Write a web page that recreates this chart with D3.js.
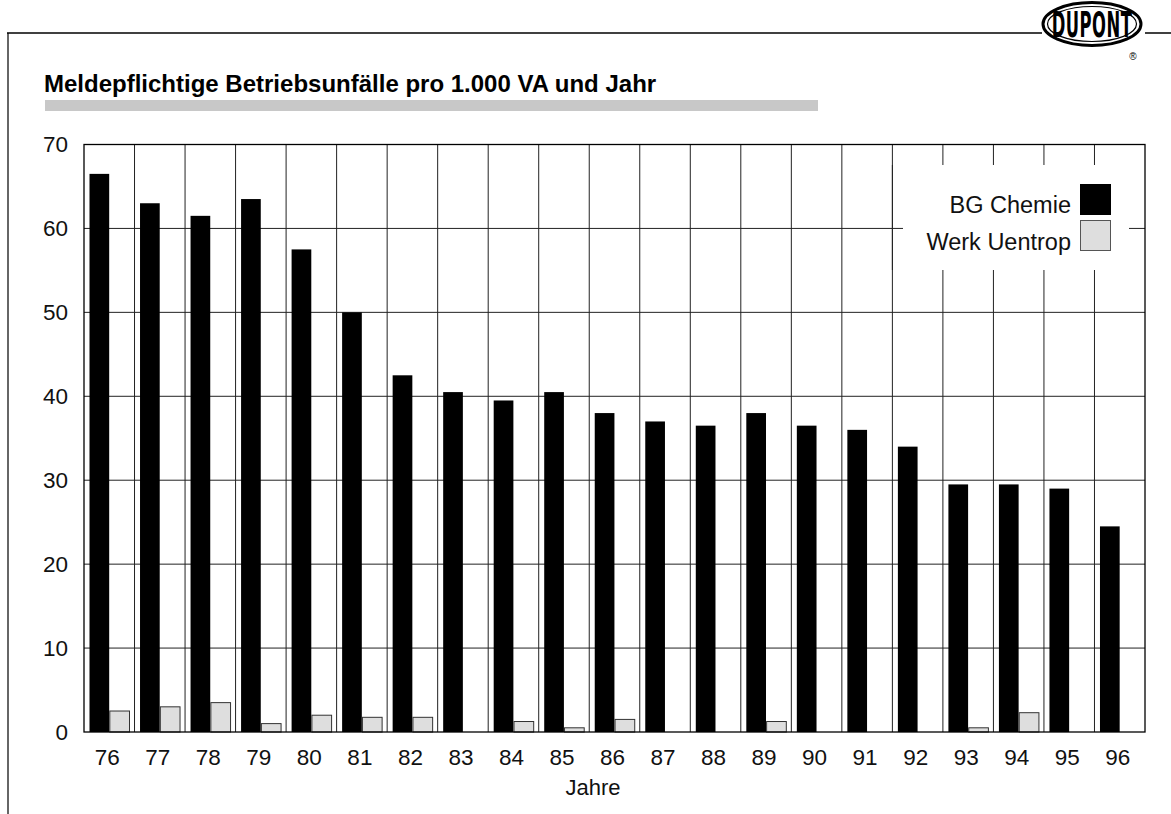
<!DOCTYPE html>
<html>
<head>
<meta charset="utf-8">
<script src="https://cdn.jsdelivr.net/npm/d3@7"></script>
<style>
  body { margin: 0; background: #fff; }
  svg { display: block; font-family: "Liberation Sans", Arial, sans-serif; }
</style>
</head>
<body>
<div id="chart"></div>
<script>
const years = ["76","77","78","79","80","81","82","83","84","85","86","87","88","89","90","91","92","93","94","95","96"];
const bgChemie = [66.5,63,61.5,63.5,57.5,50,42.5,40.5,39.5,40.5,38,37,36.5,38,36.5,36,34,29.5,29.5,29,24.5];
const werkUentrop = [2.5,3,3.5,1,2,1.75,1.75,0,1.25,0.5,1.5,0,0,1.25,0,0,0,0.5,2.3,0,0];
const seriesNames = ["BG Chemie", "Werk Uentrop"];
const yTicks = [0,10,20,30,40,50,60,70];

const W = 1171, H = 814;
const margin = { top: 144.5, left: 84, right: 26, bottom: 82 };
const x0 = margin.left, x1 = W - margin.right;
const y0 = H - margin.bottom, y1 = margin.top;

const svg = d3.select("#chart").append("svg").attr("width", W).attr("height", H);

// frame + logo
svg.append("line").attr("x1", 8).attr("x2", 8).attr("y1", 33).attr("y2", H)
  .attr("stroke", "#666").attr("stroke-width", 2);
svg.append("line").attr("x1", 7).attr("x2", 1042).attr("y1", 33).attr("y2", 33)
  .attr("stroke", "#000").attr("stroke-width", 1.5);
svg.append("line").attr("x1", 1145).attr("x2", W).attr("y1", 33).attr("y2", 33)
  .attr("stroke", "#000").attr("stroke-width", 1.5);
const logo = svg.append("g").attr("transform", "translate(1092,24)");
logo.append("ellipse").attr("rx", 49).attr("ry", 21.5).attr("fill", "#fff").attr("stroke", "#000").attr("stroke-width", 3);
logo.append("ellipse").attr("rx", 44.5).attr("ry", 17.5).attr("fill", "none").attr("stroke", "#000").attr("stroke-width", 1.2);
logo.append("text").attr("text-anchor", "middle").attr("y", 12.5)
  .attr("font-size", 35).attr("transform", "scale(0.52,1)")
  .attr("font-family", "'DejaVu Sans Condensed', 'Liberation Sans Narrow', sans-serif")
  .attr("font-weight", "bold").attr("letter-spacing", 1)
  .attr("fill", "#000").text("DUPONT");
logo.append("text").attr("x", 41).attr("y", 36).attr("font-size", 10).attr("text-anchor", "middle").text("®");

// title
svg.append("text").attr("x", 44).attr("y", 92).attr("font-size", 24).attr("font-weight", "bold")
  .text("Meldepflichtige Betriebsunfälle pro 1.000 VA und Jahr");
svg.append("rect").attr("x", 45).attr("y", 100).attr("width", 773).attr("height", 11).attr("fill", "#c8c8c8");

const x = d3.scaleBand().domain(years).range([x0, x1]).paddingInner(0).paddingOuter(0);
const xs = d3.scaleBand().domain(seriesNames).range([5.5, 45.5]).paddingInner(0.03);
const y = d3.scaleLinear().domain([0, 70]).range([y0, y1]);

// grid
const grid = svg.append("g").attr("stroke", "#222").attr("stroke-width", 1);
grid.selectAll(".hg").data(yTicks.slice(1, -1)).join("line")
  .attr("x1", x0).attr("x2", x1).attr("y1", d => y(d)).attr("y2", d => y(d));
grid.selectAll(".vg").data(years.slice(1)).join("line")
  .attr("x1", d => x(d)).attr("x2", d => x(d)).attr("y1", y1).attr("y2", y0);

// bars
const data = years.map((yr, i) => ({ yr, vals: [bgChemie[i], werkUentrop[i]] }));
const groups = svg.append("g").selectAll("g").data(data).join("g")
  .attr("transform", d => `translate(${x(d.yr)},0)`);
groups.selectAll("rect").data(d => d.vals.map((v, j) => ({ v, s: seriesNames[j] }))).join("rect")
  .attr("x", d => xs(d.s))
  .attr("width", xs.bandwidth())
  .attr("y", d => y(d.v))
  .attr("height", d => y(0) - y(d.v))
  .attr("fill", d => d.s === seriesNames[0] ? "#000" : "#dedede")
  .attr("stroke", d => d.s === seriesNames[0] ? "none" : "#333")
  .attr("stroke-width", 1);

// legend
const lg = svg.append("g");
lg.append("rect").attr("x", 903).attr("y", 165).attr("width", 226).attr("height", 105).attr("fill", "#fff");
lg.append("line").attr("x1", x(years[16])).attr("x2", x(years[16])).attr("y1", 165).attr("y2", 270).attr("stroke", "#222");
seriesNames.forEach((s, i) => {
  lg.append("rect").attr("x", 1080.5).attr("y", 184.5 + i * 36).attr("width", 30).attr("height", 30)
    .attr("fill", i === 0 ? "#000" : "#dedede").attr("stroke", i === 0 ? "#000" : "#555");
  lg.append("text").attr("x", 1071).attr("y", 213 + i * 37).attr("text-anchor", "end")
    .attr("font-size", 23.5).attr("fill", "#111").text(s);
});

// axes frame
svg.append("rect").attr("x", x0).attr("y", y1).attr("width", x1 - x0).attr("height", y0 - y1)
  .attr("fill", "none").attr("stroke", "#000").attr("stroke-width", 1.3);

const yAxis = svg.append("g").attr("transform", `translate(${x0},0)`)
  .call(d3.axisLeft(y).tickValues(yTicks).tickSize(0).tickPadding(16));
yAxis.select(".domain").remove();
yAxis.selectAll("text").attr("font-size", 22.5).attr("fill", "#111").attr("font-family", "'Liberation Sans', Arial, sans-serif");

const xAxis = svg.append("g").attr("transform", `translate(0,${y0})`)
  .call(d3.axisBottom(x).tickSize(0).tickPadding(17));
xAxis.select(".domain").remove();
xAxis.selectAll("text").attr("font-size", 22.5).attr("fill", "#111").attr("dx", -2).attr("font-family", "'Liberation Sans', Arial, sans-serif");

svg.append("text").attr("x", 593).attr("y", 795).attr("text-anchor", "middle")
  .attr("font-size", 22).attr("fill", "#111").text("Jahre");
</script>
</body>
</html>
